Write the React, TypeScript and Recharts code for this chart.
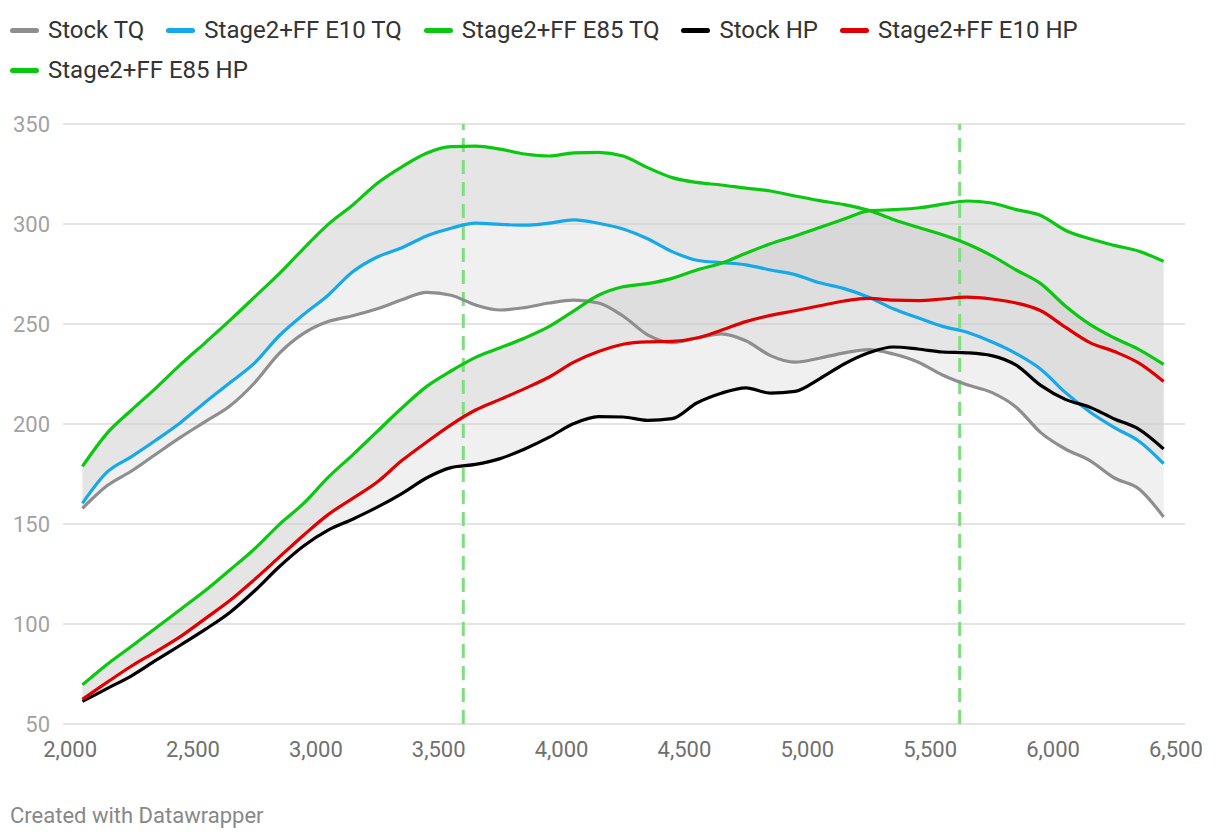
import React from "react";
import { ComposedChart, Line, Area, XAxis, YAxis, CartesianGrid, ReferenceLine } from "recharts";

// engine speed (rpm)
const rpm = [
  2050, 2150, 2250, 2350, 2450, 2550, 2650, 2750, 2850, 2950, 3050, 3150, 3250, 3350, 3450,
  3550, 3650, 3750, 3850, 3950, 4050, 4150, 4250, 4350, 4450, 4550, 4650, 4750, 4850, 4950,
  5050, 5150, 5250, 5350, 5450, 5550, 5650, 5750, 5850, 5950, 6050, 6150, 6250, 6350, 6450,
];

const stockTq = [
  157.8, 169.1, 176.5, 185, 193.4, 201.2, 209, 220.5, 235.2, 245.3, 251.2, 254.1, 257.6, 262.1, 265.8,
  264.4, 259.5, 257, 258.2, 260.5, 261.9, 260.5, 254, 244.6, 240.7, 243, 245.1, 241.6, 234.2, 230.9,
  232.9, 235.6, 237.2, 235, 231, 224.5, 219.6, 215.8, 208.4, 195.7, 187.5, 181.7, 173, 167.5, 153.5,
];
const e10Tq = [
  160.3, 175.9, 183.7, 192, 200.8, 210.9, 220.6, 230.4, 244, 254.7, 264.4, 276.1, 283.5, 288.1, 294,
  297.9, 300.4, 299.8, 299.4, 300.4, 302.1, 300.4, 297.5, 292.6, 286.2, 281.9, 280.7, 279.6, 277, 274.7,
  270.6, 267.7, 263.4, 257.6, 253.1, 248.8, 245.9, 241.1, 235.2, 227.4, 215.8, 206, 198.2, 191.4, 180.2,
];
const e85Tq = [
  178.8, 195.3, 207, 218.1, 229.8, 240.7, 251.8, 263.4, 275.1, 287.7, 299.8, 309.5, 320.4, 328.6, 335.4,
  338.7, 338.9, 337.4, 335, 334, 335.6, 335.8, 334, 328.2, 323.2, 320.8, 319.5, 317.9, 316.5, 314,
  311.7, 309.7, 306.8, 302.3, 298.4, 294.6, 290.1, 284.2, 277, 270.2, 259, 249.8, 243, 237.2, 229.8,
];
const stockHp = [
  61.3, 67.7, 74.1, 81.9, 89.5, 97.3, 105.8, 116.5, 128.5, 139, 146.9, 152.4, 158.4, 165.2, 173,
  178.2, 179.8, 182.7, 187.5, 193.4, 200.2, 203.7, 203.5, 201.8, 202.7, 210.5, 215.4, 218.1, 215.4, 216.3,
  222.6, 230, 235.6, 238.5, 237.5, 236, 235.6, 234.2, 229.4, 219.3, 212.3, 208.4, 202.5, 197.3, 187.5,
];
const e10Hp = [
  62.3, 70.8, 79, 86.2, 93.8, 102.7, 111.7, 122.2, 133.3, 144.4, 154.7, 162.8, 171, 181.7, 190.9,
  199.6, 207, 212.3, 217.7, 223.5, 230.9, 236.2, 239.9, 241.1, 241.3, 243, 246.9, 251.2, 254.3, 256.6,
  259.1, 261.5, 262.8, 261.9, 261.7, 262.5, 263.4, 262.5, 260.5, 256.6, 248.4, 240.7, 236.2, 230.4, 221.2,
];
const e85Hp = [
  69.6, 79.8, 88.9, 98.1, 107.4, 116.7, 127, 137.5, 149.6, 160.3, 173.3, 184.6, 196.3, 208, 218.7,
  226.5, 233.3, 238.1, 243, 248.8, 256.6, 264.4, 268.6, 270.2, 272.8, 277, 280.4, 285.4, 290.1, 294,
  298.2, 302.5, 306.6, 307.2, 308, 309.9, 311.5, 310.5, 307.2, 304.3, 296.9, 292.6, 289.3, 286.4, 281.3,
];

const xTicks = [2000, 2500, 3000, 3500, 4000, 4500, 5000, 5500, 6000, 6500];
const yTicks = [50, 100, 150, 200, 250, 300, 350];
const markerRpm = [3600, 5620];

const series = [
  { key: "stockTq", name: "Stock TQ", color: "#8e8e8e" },
  { key: "e10Tq", name: "Stage2+FF E10 TQ", color: "#15a8ea" },
  { key: "e85Tq", name: "Stage2+FF E85 TQ", color: "#0ac80f" },
  { key: "stockHp", name: "Stock HP", color: "#000000" },
  { key: "e10Hp", name: "Stage2+FF E10 HP", color: "#e10000" },
  { key: "e85Hp", name: "Stage2+FF E85 HP", color: "#0ac80f" },
];

const data = rpm.map((r, i) => ({
  rpm: r,
  stockTq: stockTq[i],
  e10Tq: e10Tq[i],
  e85Tq: e85Tq[i],
  stockHp: stockHp[i],
  e10Hp: e10Hp[i],
  e85Hp: e85Hp[i],
  tqLow: [stockTq[i], e10Tq[i]],
  tqHigh: [e10Tq[i], e85Tq[i]],
  hpLow: [stockHp[i], e10Hp[i]],
  hpHigh: [e10Hp[i], e85Hp[i]],
}));

const font = "Roboto, sans-serif";

const YTick = (props: any) => (
  <text x={50} y={props.y} textAnchor="end" dominantBaseline="central" fill="#a2a2a2" fontSize={22} fontFamily={font}>
    {props.payload.value}
  </text>
);

const XTick = (props: any) => (
  <text x={props.x} y={props.y + 25} textAnchor="middle" dominantBaseline="central" fill="#707070" fontSize={22} fontFamily={font}>
    {Number(props.payload.value).toLocaleString("en-US")}
  </text>
);

const App = () => {
  return (
    <div style={{ position: "absolute", left: 0, top: 0, width: 1220, height: 840, background: "#fff", fontFamily: font }}>
      <div style={{ position: "absolute", left: 10, top: 10, width: 1120, display: "flex", flexWrap: "wrap" }}>
        {series.map((s) => (
          <div key={s.key} style={{ display: "flex", alignItems: "center", height: 40, marginRight: 22 }}>
            <span style={{ width: 29, height: 5, borderRadius: 3, background: s.color, marginRight: 9 }} />
            <span style={{ fontSize: 24, color: "#333" }}>{s.name}</span>
          </div>
        ))}
      </div>

      <ComposedChart width={1220} height={840} data={data} margin={{ top: 124, right: 35, bottom: 76, left: 0 }}>
        <CartesianGrid horizontal vertical={false} stroke="#e4e4e4" strokeWidth={2} />
        <XAxis
          dataKey="rpm"
          type="number"
          domain={[1971, 6537]}
          ticks={xTicks}
          interval={0}
          height={40}
          tickSize={0}
          tickMargin={0}
          axisLine={false}
          tickLine={false}
          tick={<XTick />}
        />
        <YAxis
          type="number"
          domain={[50, 350]}
          ticks={yTicks}
          width={63}
          axisLine={false}
          tickLine={false}
          tick={<YTick />}
        />
        <Area dataKey="tqLow" type="monotone" stroke="none" fill="#cccccc" fillOpacity={0.3} isAnimationActive={false} />
        <Area dataKey="tqHigh" type="monotone" stroke="none" fill="#cccccc" fillOpacity={0.5} isAnimationActive={false} />
        <Area dataKey="hpLow" type="monotone" stroke="none" fill="#cccccc" fillOpacity={0.3} isAnimationActive={false} />
        <Area dataKey="hpHigh" type="monotone" stroke="none" fill="#cccccc" fillOpacity={0.5} isAnimationActive={false} />
        {markerRpm.map((m) => (
          <ReferenceLine key={m} x={m} stroke="#7fdf7f" strokeWidth={3} strokeDasharray="14 8" />
        ))}
        {series.map((s) => (
          <Line
            key={s.key}
            dataKey={s.key}
            name={s.name}
            type="monotone"
            stroke={s.color}
            strokeWidth={3.2}
            dot={false}
            activeDot={false}
            isAnimationActive={false}
          />
        ))}
      </ComposedChart>

      <div style={{ position: "absolute", left: 10, top: 803, fontSize: 22, color: "#888" }}>Created with Datawrapper</div>
    </div>
  );
};

export default App;
